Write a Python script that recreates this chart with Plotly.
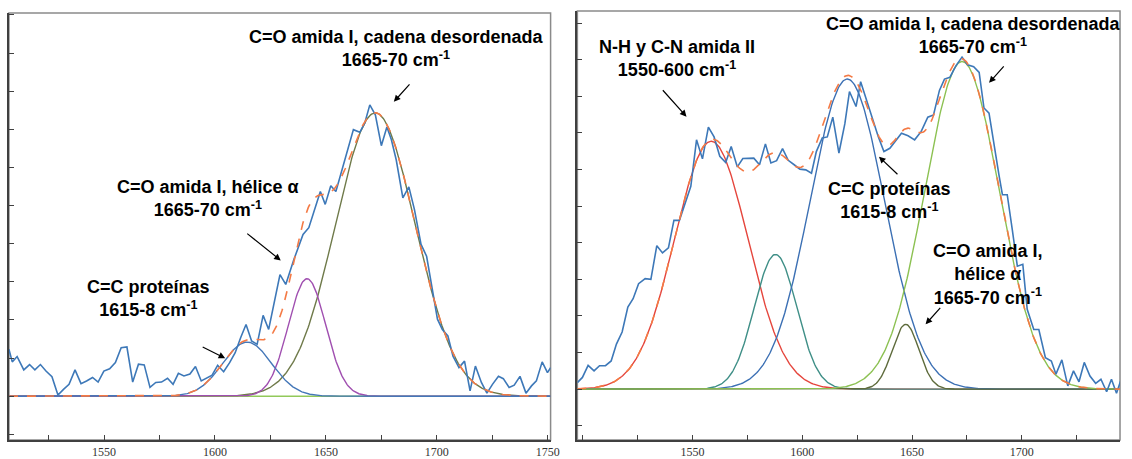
import numpy as np
import plotly.graph_objects as go

W, H = 1132, 459

# ---------------- Left panel data ----------------
left_x = [1507.1, 1508.6, 1510.8, 1513.8, 1516.4, 1518.8, 1521.3, 1523.8, 1526.5, 1529.2,
          1531.7, 1534.2, 1536.9, 1539.6, 1542.1, 1544.8, 1547.3, 1549.9, 1552.5, 1555.1,
          1557.7, 1560.3, 1562.9, 1565.5, 1568.1, 1570.7, 1573.3, 1575.9, 1578.6, 1581.1,
          1583.5, 1586.0, 1588.7, 1591.2, 1593.8, 1596.4, 1598.7, 1601.2, 1603.9, 1606.6,
          1609.1, 1611.6, 1614.0, 1616.5, 1619.0, 1621.7, 1624.2, 1629.3, 1631.9, 1635.6,
          1639.7, 1642.3, 1645.2, 1647.5, 1649.7, 1652.2, 1654.5, 1656.7, 1659.7, 1662.4,
          1665.3, 1667.5, 1669.8, 1672.3, 1675.0, 1677.5, 1679.5, 1681.7, 1684.7, 1687.4,
          1689.9, 1692.9, 1695.4, 1697.8, 1700.3, 1702.5, 1705.0, 1707.3, 1710.0, 1712.5,
          1715.0, 1717.4, 1720.1, 1722.6, 1725.1, 1727.8, 1730.0, 1732.6, 1734.9, 1737.5,
          1740.2, 1742.7, 1744.9, 1747.5, 1749.9, 1751.3]
left_y = [1.23, 0.90, 1.04, 0.69, 0.83, 0.69, 0.83, 0.66, 0.51, 0.03,
          0.18, 0.31, 0.69, 0.33, 0.40, 0.49, 0.37, 0.66, 0.72, 0.88,
          1.27, 1.29, 0.37, 0.84, 0.82, 0.23, 0.36, 0.37, 0.47, 0.31,
          0.60, 0.53, 0.58, 0.78, 0.40, 0.49, 0.55, 0.81, 0.64, 0.88,
          1.14, 1.54, 1.88, 1.45, 1.36, 2.12, 1.75, 3.19, 2.93, 3.59,
          4.24, 4.42, 4.98, 5.37, 5.03, 5.52, 5.37, 5.81, 6.42, 6.99,
          6.92, 7.16, 7.64, 7.38, 6.57, 7.06, 6.73, 6.20, 5.20, 5.49,
          4.90, 3.98, 3.67, 2.89, 2.02, 1.75, 1.58, 1.05, 0.75, 0.92,
          0.14, 0.79, 0.36, 0.08, 0.31, 0.52, 0.46, 0.23, 0.29, 0.52,
          0.08, 0.27, 0.40, 0.90, 0.62, 0.75]

# fitted components (left): center, height, width(sigma)
left_comp_names = ["baseline", "C=O amida I, cadena desordenada", "C=O amida I, hélice α", "C=C proteínas"]
left_comp_center = [1700.0, 1672.3, 1641.5, 1614.5]
left_comp_height = [0.0, 7.43, 3.08, 1.42]
left_comp_sigma = [10.0, 18.0, 8.4, 11.0]
left_comp_color = ["#92c95a", "#6f7a4a", "#a04fb0", "#4477b8"]

# ---------------- Right panel data ----------------
right_x = [1497.5, 1499.8, 1502.4, 1505.1, 1507.6, 1510.3, 1512.9, 1515.3, 1517.9, 1520.5,
           1522.9, 1525.4, 1528.4, 1531.0, 1533.7, 1536.3, 1539.0, 1541.5, 1544.0, 1546.5,
           1549.2, 1551.8, 1554.5, 1557.2, 1559.8, 1562.4, 1565.1, 1567.6, 1570.4, 1572.9,
           1575.5, 1577.9, 1580.5, 1583.2, 1585.7, 1588.3, 1591.0, 1593.6, 1596.3, 1598.9,
           1601.6, 1604.2, 1606.4, 1609.1, 1611.4, 1613.9, 1616.7, 1619.4, 1621.5, 1624.5,
           1626.6, 1629.3, 1632.0, 1634.6, 1637.2, 1639.9, 1642.4, 1645.2, 1648.2, 1651.2,
           1654.2, 1657.2, 1659.8, 1662.5, 1664.8, 1667.3, 1670.0, 1672.8, 1675.3, 1678.1,
           1680.6, 1682.8, 1685.1, 1687.4, 1689.6, 1691.2, 1693.4, 1695.7, 1698.0, 1700.5,
           1702.5, 1705.5, 1707.8, 1710.8, 1713.5, 1715.6, 1718.3, 1721.0, 1723.6, 1726.1,
           1728.5, 1731.1, 1733.7, 1736.1, 1738.7, 1740.9, 1743.2, 1745.1]
right_y = [0.18, 0.32, 0.65, 0.50, 0.64, 0.64, 0.77, 1.23, 1.56, 2.24,
           2.47, 2.88, 3.02, 3.00, 3.92, 3.72, 3.86, 4.61, 4.61, 5.04,
           5.54, 6.81, 6.29, 7.16, 6.89, 6.36, 6.19, 6.63, 6.07, 6.30,
           6.30, 6.31, 6.13, 6.70, 6.18, 6.24, 6.57, 6.25, 6.13, 6.01,
           5.99, 5.90, 6.49, 6.86, 6.89, 7.43, 6.45, 7.25, 8.13, 7.72,
           8.40, 7.90, 7.36, 6.90, 6.49, 6.58, 6.77, 6.99, 6.92, 6.81,
           7.04, 7.43, 7.49, 8.16, 8.47, 8.52, 8.83, 9.07, 8.86, 8.81,
           8.65, 7.68, 7.54, 6.63, 5.86, 5.31, 5.31, 4.36, 3.36, 3.41,
           2.18, 1.63, 1.63, 0.86, 0.77, 0.41, 0.80, 0.09, 0.50, 0.20,
           0.73, 0.36, 0.16, 0.27, -0.07, 0.27, -0.11, 0.23]

right_comp_names = ["N-H y C-N amida II", "banda 1588", "C=C proteínas", "C=O amida I, hélice α", "C=O amida I, cadena desordenada"]
right_comp_center = [1558.5, 1587.8, 1620.5, 1647.1, 1672.8]
right_comp_height = [6.77, 3.68, 8.47, 1.77, 8.95]
right_comp_sigma = [16.7, 9.7, 17.0, 6.1, 17.0]
right_comp_color = ["#e5463d", "#3f8f87", "#3c70b4", "#5e6b3c", "#8cc152"]

left_xrange = [1507.1, 1751.3]
left_yrange = [-1.15, 10.05]
right_xrange = [1497.5, 1744.8]
right_yrange = [-1.39, 10.33]

left_ticks = [1550, 1600, 1650, 1700, 1750]
right_ticks = [1550, 1600, 1650, 1700]

DATA_BLUE = "#3d78b8"
FIT_ORANGE = "#f47a45"


def gauss(x, c, h, s):
    return h * np.exp(-((x - c) ** 2) / (2 * s ** 2))


fig = go.Figure()


def add_panel(xa, ya, xr, xd, yd, centers, heights, sigmas, colors):
    xs = np.linspace(xr[0], xr[1], 600)
    total = np.zeros_like(xs)
    for c, h, s, col in zip(centers, heights, sigmas, colors):
        comp = gauss(xs, c, h, s)
        total += comp
        fig.add_trace(go.Scatter(x=xs, y=comp, mode="lines", line=dict(color=col, width=1.4),
                                 xaxis=xa, yaxis=ya, showlegend=False, hoverinfo="skip"))
    fig.add_trace(go.Scatter(x=xd, y=yd, mode="lines", line=dict(color=DATA_BLUE, width=1.6),
                             xaxis=xa, yaxis=ya, showlegend=False))
    fig.add_trace(go.Scatter(x=xs, y=total, mode="lines",
                             line=dict(color=FIT_ORANGE, width=1.6, dash="dash"),
                             xaxis=xa, yaxis=ya, showlegend=False, hoverinfo="skip"))


add_panel("x", "y", left_xrange, left_x, left_y, left_comp_center, left_comp_height,
          left_comp_sigma, left_comp_color)
add_panel("x2", "y2", right_xrange, right_x, right_y, right_comp_center, right_comp_height,
          right_comp_sigma, right_comp_color)

AX_COL = "#404040"
tickfont = dict(family="Liberation Serif, Times New Roman, serif", size=12, color="#333333")


def xaxis_cfg(rng, ticks, dom, anchor):
    return dict(range=rng, domain=dom, anchor=anchor, showgrid=False, zeroline=False,
                showline=True, linecolor=AX_COL, linewidth=1.5,
                tickmode="array", tickvals=ticks, ticktext=[str(t) for t in ticks],
                ticks="inside", ticklen=5, tickwidth=1, tickcolor=AX_COL, tickfont=tickfont,
                minor=dict(ticks="inside", ticklen=5, tickwidth=1, tickcolor=AX_COL,
                           tickmode="linear", tick0=1500, dtick=25, showgrid=False))


def yaxis_cfg(rng, dom, anchor):
    return dict(range=rng, domain=dom, anchor=anchor, showgrid=False, zeroline=False,
                showline=True, linecolor=AX_COL, linewidth=1.5, showticklabels=False,
                tickmode="linear", tick0=0, dtick=1, ticks="inside", ticklen=5,
                tickwidth=1, tickcolor=AX_COL)


L_dom_x = [9 / W, 555 / W]
R_dom_x = [582 / W, 1129 / W]
L_dom_y = [(H - 441) / H, (H - 13) / H]
R_dom_y = [(H - 441) / H, (H - 11) / H]

fig.update_layout(
    width=W, height=H, margin=dict(l=0, r=0, t=0, b=0),
    paper_bgcolor="white", plot_bgcolor="white", showlegend=False,
    xaxis=xaxis_cfg(left_xrange, left_ticks, L_dom_x, "y"),
    yaxis=yaxis_cfg(left_yrange, L_dom_y, "x"),
    xaxis2=xaxis_cfg(right_xrange, right_ticks, R_dom_x, "y2"),
    yaxis2=yaxis_cfg(right_yrange, R_dom_y, "x2"),
)

# grey frames around plot areas
for dx, dy in [(L_dom_x, L_dom_y), (R_dom_x, R_dom_y)]:
    fig.add_shape(type="rect", xref="paper", yref="paper", x0=dx[0], x1=dx[1], y0=dy[0], y1=dy[1],
                  line=dict(color="#8a8a8a", width=1.5), fillcolor="rgba(0,0,0,0)", layer="below")

lab_font = dict(family="Arial, Liberation Sans, sans-serif", size=18, color="black")


def px2paper(px, py):
    return px / W, 1 - py / H


labels = [
    ("<b>C=O amida I, cadena desordenada</b><br><b>1665-70 cm<sup>-1</sup></b>", 400, 48.5),
    ("<b>C=O amida I, hélice α</b><br><b>1665-70 cm<sup>-1</sup></b>", 210, 198.5),
    ("<b>C=C proteínas</b><br><b>1615-8 cm<sup>-1</sup></b>", 150, 299.5),
    ("<b>N-H y C-N amida II</b><br><b>1550-600 cm<sup>-1</sup></b>", 682, 59),
    ("<b>C=O amida I, cadena desordenada</b><br><b>1665-70 cm<sup>-1</sup></b>", 981, 36),
    ("<b>C=C proteínas</b><br><b>1615-8 cm<sup>-1</sup></b>", 897, 201),
    ("<b>C=O amida I,</b><br><b>hélice α</b><br><b>1665-70 cm<sup>-1</sup></b>", 996, 275.5),
]
for txt, cx, cy in labels:
    x, y = px2paper(cx, cy)
    fig.add_annotation(text=txt, x=x, y=y, xref="paper", yref="paper", showarrow=False,
                       xanchor="center", yanchor="middle", font=lab_font, align="center")

# arrows: head (px,py), tail offset (ax, ay)
arrows = [
    (397, 102, 17, -19),
    (283, 261, -35, -28),
    (227, 359, -24, -12),
    (692, 117, -25, -28),
    (997, 83, 16, -18),
    (886, 157, 20, 19),
    (933, 325, 16, -18),
]
for hx, hy, ax, ay in arrows:
    x, y = px2paper(hx, hy)
    fig.add_annotation(text="", x=x, y=y, xref="paper", yref="paper", showarrow=True,
                       ax=ax, ay=ay, arrowhead=2, arrowsize=1.1, arrowwidth=1.2,
                       arrowcolor="black", standoff=0, startstandoff=0)

fig.write_html("out.html")
